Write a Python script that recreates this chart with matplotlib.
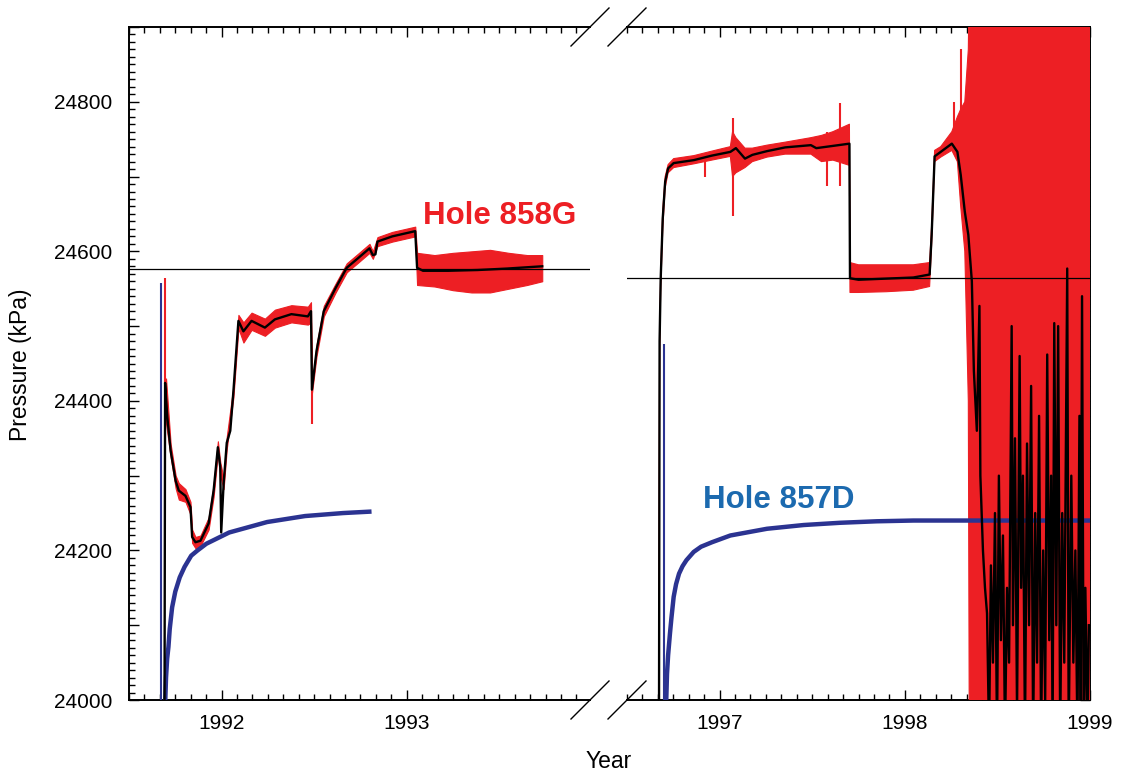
import numpy as np
import matplotlib.pyplot as plt
from matplotlib.ticker import MultipleLocator, FuncFormatter

plt.rcParams['font.family'] = ['Liberation Sans', 'DejaVu Sans']

RED = '#ED1F24'
NAVY = '#2B3391'
TEXTBLUE = '#1C6AAF'

# ---------------- left panel (1991.5 - 1994) ----------------
# Hole 858G smoothed record (black)
g_left_yr = [1991.692, 1991.695, 1991.707, 1991.725, 1991.752, 1991.769, 1991.805,
             1991.832, 1991.841, 1991.859, 1991.886, 1991.930, 1991.957, 1991.980,
             1991.993, 1991.998, 1992.011, 1992.028, 1992.047, 1992.064, 1992.091,
             1992.118, 1992.162, 1992.234, 1992.288, 1992.377, 1992.466, 1992.483,
             1992.488, 1992.513, 1992.552, 1992.616, 1992.676, 1992.738, 1992.799,
             1992.817, 1992.831, 1992.842, 1992.922, 1993.046, 1993.056, 1993.088,
             1993.223, 1993.383, 1993.544, 1993.732]
g_left_kpa = [24000, 24424, 24378, 24333, 24293, 24280, 24273,
              24258, 24218, 24211, 24213, 24236, 24280, 24338,
              24311, 24224, 24289, 24344, 24360, 24413, 24507,
              24493, 24507, 24498, 24509, 24516, 24513, 24520,
              24415, 24467, 24520, 24551, 24578, 24591, 24604,
              24595, 24596, 24613, 24620, 24627, 24578, 24574,
              24574, 24575, 24577, 24580]

# Hole 858G raw record envelope (red)
r_left_yr = [1991.700, 1991.725, 1991.752, 1991.769, 1991.805, 1991.832, 1991.841,
             1991.859, 1991.886, 1991.930, 1991.957, 1991.980, 1991.993, 1992.011,
             1992.028, 1992.064, 1992.091, 1992.118, 1992.162, 1992.234, 1992.288,
             1992.377, 1992.466, 1992.483, 1992.488, 1992.513, 1992.552, 1992.616,
             1992.676, 1992.738, 1992.799, 1992.817, 1992.842, 1992.922, 1993.046,
             1993.056, 1993.150, 1993.250, 1993.350, 1993.450, 1993.550, 1993.650,
             1993.732]
r_left_lo = [24370, 24325, 24283, 24268, 24265, 24248, 24210,
             24203, 24206, 24228, 24272, 24330, 24300, 24282,
             24336, 24405, 24497, 24478, 24495, 24487, 24498,
             24505, 24502, 24505, 24410, 24460, 24513, 24545,
             24572, 24585, 24598, 24590, 24607, 24613, 24620,
             24555, 24553, 24548, 24545, 24545, 24550, 24555,
             24560]
r_left_hi = [24430, 24342, 24300, 24290, 24282, 24265, 24228,
             24218, 24220, 24244, 24288, 24346, 24318, 24296,
             24352, 24420, 24515, 24505, 24518, 24510, 24522,
             24528, 24526, 24532, 24420, 24475, 24527, 24557,
             24584, 24597, 24610, 24600, 24619, 24626, 24633,
             24598, 24595, 24598, 24600, 24602, 24598, 24595,
             24595]
r_left_spike_yr = [1991.695, 1992.488]
r_left_spike_lo = [24424, 24369]
r_left_spike_hi = [24565, 24420]

# Hole 857D (blue)
d_left_yr = [1991.696, 1991.700, 1991.706, 1991.713, 1991.720, 1991.733, 1991.750,
             1991.774, 1991.800, 1991.836, 1991.870, 1991.918, 1992.041, 1992.246,
             1992.451, 1992.656, 1992.810]
d_left_kpa = [24000, 24030, 24055, 24071, 24095, 24124, 24145,
              24164, 24178, 24193, 24200, 24209, 24224, 24238,
              24246, 24250, 24252]
d_left_spike_yr = 1991.675
d_left_spike_top = 24557
hline_left = 24576

# ---------------- right panel (1996.5 - 1999) ----------------
g_right_yr = [1996.673, 1996.676, 1996.682, 1996.693, 1996.706, 1996.722, 1996.752,
              1996.861, 1996.958, 1997.058, 1997.088, 1997.137, 1997.177, 1997.256,
              1997.354, 1997.493, 1997.522, 1997.612, 1997.701, 1997.704, 1997.750,
              1998.046, 1998.134, 1998.145, 1998.161, 1998.194, 1998.254, 1998.284,
              1998.302, 1998.324, 1998.343, 1998.362, 1998.373, 1998.389, 1998.403,
              1998.408, 1998.422, 1998.433, 1998.444, 1998.455, 1998.465, 1998.476,
              1998.487, 1998.498, 1998.508, 1998.519, 1998.530, 1998.541, 1998.552,
              1998.563, 1998.577, 1998.584, 1998.595, 1998.606, 1998.620, 1998.628,
              1998.638, 1998.649, 1998.660, 1998.671, 1998.682, 1998.693, 1998.704,
              1998.714, 1998.725, 1998.736, 1998.747, 1998.758, 1998.769, 1998.780,
              1998.790, 1998.798, 1998.807, 1998.818, 1998.828, 1998.839, 1998.850,
              1998.861, 1998.877, 1998.885, 1998.899, 1998.910, 1998.921, 1998.932,
              1998.943, 1998.950, 1998.957, 1998.966, 1998.975, 1998.986, 1998.994]
g_right_kpa = [24000, 24480, 24564, 24644, 24693, 24711, 24718,
               24722, 24728, 24733, 24738, 24724, 24729, 24734,
               24739, 24742, 24738, 24741, 24744, 24564, 24562,
               24565, 24569, 24622, 24727, 24733, 24744, 24733,
               24702, 24653, 24622, 24560, 24440, 24360, 24527,
               24300, 24200, 24150, 24116, 23950, 24180, 24050,
               24250, 23950, 24300, 24080, 24220, 23950, 24150,
               24050, 24500, 24100, 24350, 23980, 24460, 24150,
               24300, 23950, 24343, 24100, 24420, 23950, 24250,
               24050, 24380, 23950, 24200, 24000, 24462, 24080,
               24300, 23950, 24504, 24100, 24500, 23950, 24250,
               24050, 24577, 23950, 24300, 24050, 24200, 23950,
               24380, 24000, 24540, 23950, 24150, 23950, 24100]

r_right_yr = [1996.673, 1996.676, 1996.682, 1996.693, 1996.706, 1996.722, 1996.752,
              1996.861, 1996.958, 1997.058, 1997.070, 1997.088, 1997.137, 1997.177,
              1997.256, 1997.354, 1997.493, 1997.550, 1997.612, 1997.701, 1997.704,
              1997.750, 1997.900, 1998.046, 1998.134, 1998.145, 1998.161, 1998.194,
              1998.254, 1998.284, 1998.302, 1998.324, 1998.343, 1998.350, 1999.000]
r_right_lo = [24000, 24470, 24550, 24630, 24685, 24705, 24712,
              24717, 24722, 24727, 24700, 24705, 24712, 24720,
              24726, 24730, 24730, 24720, 24722, 24715, 24545,
              24545, 24546, 24548, 24553, 24610, 24720, 24726,
              24735, 24720, 24660, 24600, 24400, 23800, 23800]
r_right_hi = [24000, 24490, 24575, 24655, 24700, 24716, 24724,
              24728, 24734, 24740, 24760, 24752, 24738, 24738,
              24742, 24746, 24752, 24755, 24760, 24770, 24585,
              24582, 24582, 24582, 24585, 24635, 24735, 24740,
              24760, 24780, 24790, 24800, 24870, 25000, 25000]
r_right_spike_yr = [1996.920, 1997.072, 1997.580, 1997.652, 1998.265, 1998.302]
r_right_spike_lo = [24700, 24647, 24687, 24687, 24740, 24700]
r_right_spike_hi = [24730, 24778, 24760, 24798, 24800, 24871]

d_right_yr = [1996.712, 1996.716, 1996.722, 1996.732, 1996.740, 1996.752, 1996.765,
              1996.781, 1996.800, 1996.821, 1996.860, 1996.900, 1996.959, 1997.058,
              1997.256, 1997.454, 1997.651, 1997.849, 1998.047, 1999.000]
d_right_kpa = [24000, 24035, 24060, 24089, 24110, 24138, 24155,
               24169, 24179, 24187, 24198, 24205, 24211, 24220,
               24229, 24234, 24237, 24239, 24240, 24240]
d_right_spike_yr = 1996.698
d_right_spike_top = 24476
hline_right = 24565

YMIN, YMAX = 24000, 24900

W, H = 1122, 778
fig = plt.figure(figsize=(W / 100, H / 100), dpi=100)
ax1 = fig.add_axes([129 / W, 78 / H, 461 / W, 673 / H])
ax2 = fig.add_axes([627 / W, 78 / H, 463 / W, 673 / H])


def draw_panel(ax, r_yr, r_lo, r_hi, sp_yr, sp_lo, sp_hi, g_yr, g_kpa,
               d_yr, d_kpa, dsp_yr, dsp_top, hl):
    ax.fill_between(r_yr, r_lo, r_hi, color=RED, lw=0.8, edgecolor=RED, zorder=3)
    ax.vlines(sp_yr, sp_lo, sp_hi, color=RED, lw=1.5, zorder=3)
    ax.vlines(dsp_yr, YMIN - 50, dsp_top, color=NAVY, lw=1.5, zorder=3.2)
    ax.plot(d_yr, d_kpa, color=NAVY, lw=3.2, zorder=3.5, solid_capstyle='butt')
    ax.plot(g_yr, g_kpa, color='black', lw=1.7, zorder=4)
    ax.axhline(hl, color='black', lw=0.9, zorder=5)


draw_panel(ax1, r_left_yr, r_left_lo, r_left_hi, r_left_spike_yr, r_left_spike_lo,
           r_left_spike_hi, g_left_yr, g_left_kpa, d_left_yr, d_left_kpa,
           d_left_spike_yr, d_left_spike_top, hline_left)
draw_panel(ax2, r_right_yr, r_right_lo, r_right_hi, r_right_spike_yr, r_right_spike_lo,
           r_right_spike_hi, g_right_yr, g_right_kpa, d_right_yr, d_right_kpa,
           d_right_spike_yr, d_right_spike_top, hline_right)

ax1.set_xlim(1991.5, 1993.99)
ax2.set_xlim(1996.5, 1999.0)

for ax in (ax1, ax2):
    ax.set_ylim(YMIN, YMAX)
    ax.xaxis.set_major_locator(MultipleLocator(1))
    ax.xaxis.set_minor_locator(MultipleLocator(1 / 12))
    ax.xaxis.set_major_formatter(FuncFormatter(lambda v, p: f'{v:.0f}'))
    ax.yaxis.set_major_locator(MultipleLocator(100))
    ax.yaxis.set_minor_locator(MultipleLocator(10))
    ax.yaxis.set_major_formatter(FuncFormatter(lambda v, p: f'{v:.0f}' if v % 200 == 0 else ''))
    ax.tick_params(which='both', direction='in', top=True, width=1.0, labelsize=15)
    ax.tick_params(which='major', length=7.2)
    ax.tick_params(which='minor', length=4.3)
    ax.tick_params(axis='x', pad=10)
    ax.tick_params(axis='y', pad=12)
    for s in ax.spines.values():
        s.set_linewidth(1.4)

ax1.spines['right'].set_visible(False)
ax1.tick_params(axis='y', which='both', right=False)
ax2.spines['left'].set_visible(False)
ax2.tick_params(axis='y', which='both', left=False, right=True, labelleft=False)

# axis break marks
dy = 19 / 673
for ax, xe, w in ((ax1, 1.0, 461), (ax2, 0.0, 463)):
    dx = 19 / w
    for ye in (0.0, 1.0):
        ax.plot([xe - dx, xe + dx], [ye - dy, ye + dy], color='black', lw=1.0,
                transform=ax.transAxes, clip_on=False, zorder=6)

ax1.text(1993.088, 24636, 'Hole 858G', color=RED, fontsize=22.5, fontweight='bold',
         ha='left', va='baseline')
ax2.text(1996.91, 24257, 'Hole 857D', color=TEXTBLUE, fontsize=22.5, fontweight='bold',
         ha='left', va='baseline')

fig.text(21 / W, 1 - 365 / H, 'Pressure (kPa)', rotation=90, ha='center', va='center',
         fontsize=16.5)
fig.text(609 / W, 1 - 762 / H, 'Year', ha='center', va='center', fontsize=16.5)

fig.savefig('out.png', dpi=100)
